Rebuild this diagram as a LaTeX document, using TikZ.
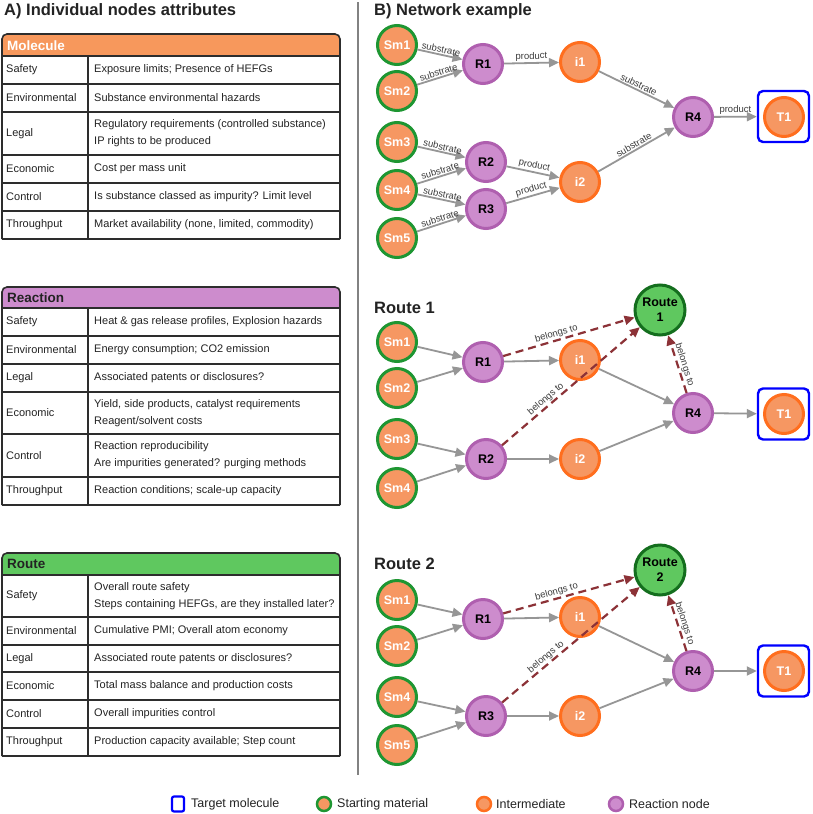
\documentclass[tikz,border=0pt]{standalone}
\usepackage{fontspec}
\setmainfont{Liberation Sans}
\usetikzlibrary{arrows.meta}
\definecolor{orfill}{RGB}{246,151,98}
\definecolor{smborder}{RGB}{30,150,50}
\definecolor{imborder}{RGB}{255,110,30}
\definecolor{rxfill}{RGB}{205,140,205}
\definecolor{rxborder}{RGB}{175,95,175}
\definecolor{rtfill}{RGB}{95,200,95}
\definecolor{rtborder}{RGB}{20,110,30}
\definecolor{molhead}{RGB}{247,152,92}
\definecolor{rxhead}{RGB}{205,140,205}
\definecolor{rthead}{RGB}{95,200,95}
\definecolor{edgegray}{RGB}{150,150,150}
\definecolor{beldark}{RGB}{140,50,55}
\definecolor{txtdark}{RGB}{35,35,35}
\definecolor{labgray}{RGB}{60,60,60}
\definecolor{sepgray}{RGB}{130,130,130}
\definecolor{tblline}{RGB}{45,45,45}
\newcommand{\tabrow}[5]{%
  \draw[tline] (2,#3) -- (340,#3);
  \node[tlab] (#1l) at (5,{(#2+#3)/2}) {#4};
  \node[tval] (#1v) at (93,{(#2+#3)/2}) {#5};
}
\begin{document}
\begin{tikzpicture}[x=1pt,y=-1pt,
  title/.style={font=\fontsize{16.5}{18}\selectfont\bfseries, text=txtdark, inner sep=0pt, anchor=base west},
  tline/.style={draw=tblline, line width=1.4pt},
  tout/.style={draw=tblline, line width=1.6pt, rounded corners=5pt},
  tlab/.style={anchor=west, inner sep=1pt, font=\fontsize{11}{17}\selectfont, text=txtdark},
  tval/.style={anchor=west, inner sep=1pt, align=left, font=\fontsize{11}{17}\selectfont, text=txtdark},
  thead/.style={anchor=west, inner sep=1pt, font=\fontsize{13.5}{15}\selectfont\bfseries},
  nd/.style={circle, line width=3pt, minimum size=39pt, inner sep=0pt, font=\fontsize{12.5}{14}\selectfont\bfseries},
  sm/.style={nd, draw=smborder, fill=orfill, text=white},
  im/.style={nd, draw=imborder, fill=orfill, text=white},
  rx/.style={nd, draw=rxborder, fill=rxfill, text=black},
  rt/.style={nd, minimum size=50pt, draw=rtborder, fill=rtfill, text=black, align=center, font=\fontsize{12.5}{15}\selectfont\bfseries},
  tgt/.style={draw=blue, line width=2.4pt, rounded corners=5pt, minimum size=51pt, inner sep=0pt},
  edge/.style={draw=edgegray, line width=1.8pt, -{Triangle[length=10pt,width=9pt]}},
  bel/.style={draw=beldark, line width=2.2pt, dash pattern=on 8pt off 5pt, -{Triangle[length=10pt,width=9pt]}},
  elab/.style={font=\fontsize{9.5}{10}\selectfont, text=labgray, sloped, above, inner sep=1pt},
  ltxt/.style={anchor=west, inner sep=1pt, font=\fontsize{12.5}{14}\selectfont, text=txtdark},
  lgc/.style={circle, line width=2.5pt, minimum size=14pt, inner sep=0pt}
]
\fill[white] (0,0) rectangle (813,814);
\useasboundingbox (0,0) rectangle (813,814);

% titles
\node[title] (tA) at (4,15) {A) Individual nodes attributes};
\node[title] (tB) at (374,15) {B) Network example};
\node[title] (tR1) at (374,313) {Route 1};
\node[title] (tR2) at (374,569) {Route 2};

% separator
\draw[draw=sepgray, line width=1.5pt] (358,2) -- (358,775);

% ---------- Table: Molecule ----------
\fill[molhead, rounded corners=5pt] (2,56) -- (2,34) -- (340,34) -- (340,56);
\node[thead, text=white] (mh) at (6,45.5) {Molecule};
\draw[tline] (2,56) -- (340,56);
\draw[tline] (88,56) -- (88,239);
\tabrow{m1}{56}{84}{Safety}{Exposure limits; Presence of HEFGs}
\tabrow{m2}{84}{112}{Environmental}{Substance environmental hazards}
\tabrow{m3}{112}{155}{Legal}{Regulatory requirements (controlled substance)\\IP rights to be produced}
\tabrow{m4}{155}{183}{Economic}{Cost per mass unit}
\tabrow{m5}{183}{211}{Control}{Is substance classed as impurity? Limit level}
\tabrow{m6}{211}{239}{Throughput}{Market availability (none, limited, commodity)}
\draw[tout] (2,239) -- (2,34) -- (340,34) -- (340,239);

% ---------- Table: Reaction ----------
\fill[rxhead, rounded corners=5pt] (2,308) -- (2,287) -- (340,287) -- (340,308);
\node[thead, text=txtdark] (rh) at (6,298) {Reaction};
\draw[tline] (2,308) -- (340,308);
\draw[tline] (88,308) -- (88,505);
\tabrow{r1}{308}{336}{Safety}{Heat \& gas release profiles, Explosion hazards}
\tabrow{r2}{336}{364}{Environmental}{Energy consumption; CO2 emission}
\tabrow{r3}{364}{392}{Legal}{Associated patents or disclosures?}
\tabrow{r4}{392}{434}{Economic}{Yield, side products, catalyst requirements\\Reagent/solvent costs}
\tabrow{r5}{434}{477}{Control}{Reaction reproducibility\\Are impurities generated? purging methods}
\tabrow{r6}{477}{505}{Throughput}{Reaction conditions; scale-up capacity}
\draw[tout] (2,505) -- (2,287) -- (340,287) -- (340,505);

% ---------- Table: Route ----------
\fill[rthead, rounded corners=5pt] (2,575) -- (2,553) -- (340,553) -- (340,575);
\node[thead, text=txtdark] (uh) at (6,564) {Route};
\draw[tline] (2,575) -- (340,575);
\draw[tline] (88,575) -- (88,756);
\tabrow{u1}{575}{617}{Safety}{Overall route safety\\Steps containing HEFGs, are they installed later?}
\tabrow{u2}{617}{645}{Environmental}{Cumulative PMI; Overall atom economy}
\tabrow{u3}{645}{672}{Legal}{Associated route patents or disclosures?}
\tabrow{u4}{672}{700}{Economic}{Total mass balance and production costs}
\tabrow{u5}{700}{728}{Control}{Overall impurities control}
\tabrow{u6}{728}{756}{Throughput}{Production capacity available; Step count}
\draw[tout] (2,756) -- (2,553) -- (340,553) -- (340,756);

% ---------- Network example ----------
\node[sm] (nSm1) at (397,45) {Sm1};
\node[sm] (nSm2) at (397,91) {Sm2};
\node[sm] (nSm3) at (397,142) {Sm3};
\node[sm] (nSm4) at (397,190) {Sm4};
\node[sm] (nSm5) at (397,238) {Sm5};
\node[rx] (nR1) at (483,64) {R1};
\node[rx] (nR2) at (486,162) {R2};
\node[rx] (nR3) at (486,209) {R3};
\node[im] (ni1) at (580,62) {i1};
\node[im] (ni2) at (580,182) {i2};
\node[rx] (nR4) at (693,117) {R4};
\node[tgt] (nTb) at (783.5,116.5) {};
\node[im] (nT1) at (784,117) {T1};
\draw[edge] (nSm1) -- node[elab] {substrate} (nR1);
\draw[edge] (nSm2) -- node[elab] {substrate} (nR1);
\draw[edge] (nSm3) -- node[elab] {substrate} (nR2);
\draw[edge] (nSm4) -- node[elab] {substrate} (nR2);
\draw[edge] (nSm4) -- node[elab] {substrate} (nR3);
\draw[edge] (nSm5) -- node[elab] {substrate} (nR3);
\draw[edge] (nR1) -- node[elab] {product} (ni1);
\draw[edge] (nR2) -- node[elab] {product} (ni2);
\draw[edge] (nR3) -- node[elab] {product} (ni2);
\draw[edge] (ni1) -- node[elab] {substrate} (nR4);
\draw[edge] (ni2) -- node[elab] {substrate} (nR4);
\draw[edge] (nR4) -- node[elab] {product} (nTb);

% ---------- Route 1 ----------
\node[rt] (aRt) at (660,310) {Route\\1};
\node[sm] (aSm1) at (397,342) {Sm1};
\node[sm] (aSm2) at (397,388) {Sm2};
\node[sm] (aSm3) at (397,439) {Sm3};
\node[sm] (aSm4) at (397,488) {Sm4};
\node[rx] (aR1) at (483,362) {R1};
\node[im] (ai1) at (580,360) {i1};
\node[rx] (aR2) at (486,459) {R2};
\node[im] (ai2) at (580,459) {i2};
\node[rx] (aR4) at (693,413) {R4};
\node[tgt] (aTb) at (783.5,414) {};
\node[im] (aT1) at (784,414) {T1};
\draw[edge] (aSm1) -- (aR1);
\draw[edge] (aSm2) -- (aR1);
\draw[edge] (aSm3) -- (aR2);
\draw[edge] (aSm4) -- (aR2);
\draw[edge] (aR1) -- (ai1);
\draw[edge] (aR2) -- (ai2);
\draw[edge] (ai1) -- (aR4);
\draw[edge] (ai2) -- (aR4);
\draw[edge] (aR4) -- (aTb);
\draw[bel] (aR1) -- node[elab, pos=0.42] {belongs to} (aRt);
\draw[bel] (aR2) -- node[elab, pos=0.35] {belongs to} (aRt);
\draw[bel] (aR4) -- node[elab, pos=0.45] {belongs to} (aRt);

% ---------- Route 2 ----------
\node[rt] (bRt) at (660,570) {Route\\2};
\node[sm] (bSm1) at (397,600) {Sm1};
\node[sm] (bSm2) at (397,646) {Sm2};
\node[sm] (bSm4) at (397,697) {Sm4};
\node[sm] (bSm5) at (397,745) {Sm5};
\node[rx] (bR1) at (483,619) {R1};
\node[im] (bi1) at (580,617) {i1};
\node[rx] (bR3) at (486,716) {R3};
\node[im] (bi2) at (580,716) {i2};
\node[rx] (bR4) at (693,671) {R4};
\node[tgt] (bTb) at (783.5,671) {};
\node[im] (bT1) at (784,671) {T1};
\draw[edge] (bSm1) -- (bR1);
\draw[edge] (bSm2) -- (bR1);
\draw[edge] (bSm4) -- (bR3);
\draw[edge] (bSm5) -- (bR3);
\draw[edge] (bR1) -- (bi1);
\draw[edge] (bR3) -- (bi2);
\draw[edge] (bi1) -- (bR4);
\draw[edge] (bi2) -- (bR4);
\draw[edge] (bR4) -- (bTb);
\draw[bel] (bR1) -- node[elab, pos=0.42] {belongs to} (bRt);
\draw[bel] (bR3) -- node[elab, pos=0.35] {belongs to} (bRt);
\draw[bel] (bR4) -- node[elab, pos=0.45] {belongs to} (bRt);

% ---------- Legend ----------
\node[draw=blue, line width=2.2pt, rounded corners=2pt, minimum width=12pt, minimum height=15pt, inner sep=0pt] (lgT) at (178,804) {};
\node[ltxt] (lgTt) at (190,804) {Target molecule};
\node[lgc, draw=smborder, fill=orfill] (lgS) at (324,804) {};
\node[ltxt] (lgSt) at (336,804) {Starting material};
\node[lgc, draw=imborder, fill=orfill] (lgI) at (484,804) {};
\node[ltxt] (lgIt) at (495,804) {Intermediate};
\node[lgc, draw=rxborder, fill=rxfill] (lgR) at (616,804) {};
\node[ltxt] (lgRt) at (628,804) {Reaction node};
\end{tikzpicture}
\end{document}
